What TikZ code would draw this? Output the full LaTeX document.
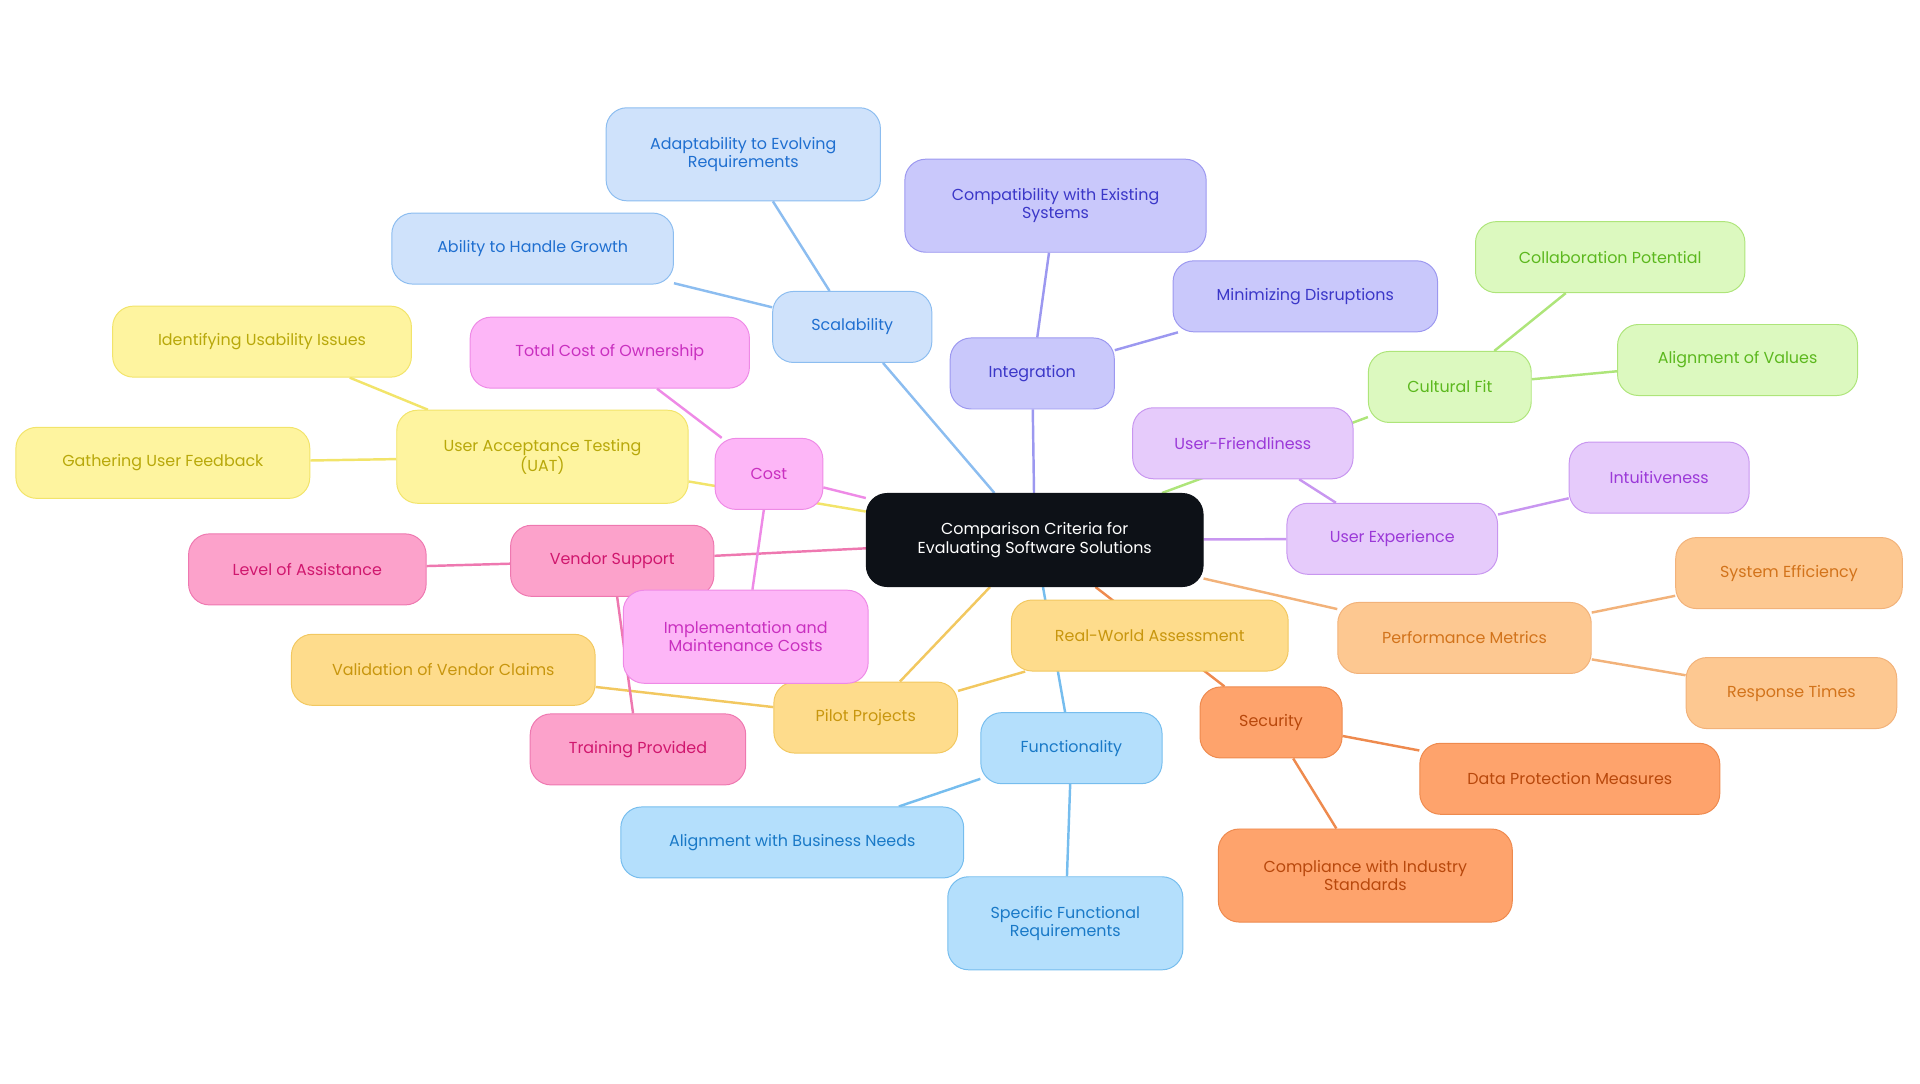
\documentclass[tikz,border=0pt]{standalone}
\usepackage{fontspec}
\setmainfont{Poppins}
\usetikzlibrary{backgrounds}
\definecolor{bF}{HTML}{CFE2FB}\definecolor{bD}{HTML}{1F6FD0}\definecolor{bL}{HTML}{8CBDF0}
\definecolor{iF}{HTML}{C9C8FB}\definecolor{iD}{HTML}{3B37C8}\definecolor{iL}{HTML}{9C98F0}
\definecolor{gF}{HTML}{DCF9BF}\definecolor{gD}{HTML}{5CB81E}\definecolor{gL}{HTML}{AEE57A}
\definecolor{lF}{HTML}{E6CBFB}\definecolor{lD}{HTML}{9B39D8}\definecolor{lL}{HTML}{C896F0}
\definecolor{pF}{HTML}{FDC891}\definecolor{pD}{HTML}{D2731B}\definecolor{pL}{HTML}{F2B27A}
\definecolor{sF}{HTML}{FEA36C}\definecolor{sD}{HTML}{B8480C}\definecolor{sL}{HTML}{EE8A4E}
\definecolor{rF}{HTML}{FEDC8C}\definecolor{rD}{HTML}{C8960E}\definecolor{rL}{HTML}{F2C860}
\definecolor{fF}{HTML}{B4DFFC}\definecolor{fD}{HTML}{1979C7}\definecolor{fL}{HTML}{76BDEE}
\definecolor{vF}{HTML}{FCA2CB}\definecolor{vD}{HTML}{D0176E}\definecolor{vL}{HTML}{EE78B0}
\definecolor{cF}{HTML}{FDB6F7}\definecolor{cD}{HTML}{C930C0}\definecolor{cL}{HTML}{EE8AE6}
\definecolor{uF}{HTML}{FEF49F}\definecolor{uD}{HTML}{B8A80A}\definecolor{uL}{HTML}{F2E46A}
\definecolor{ctr}{HTML}{0D1117}
\tikzset{
 bx/.style={rounded corners=17pt,align=center,inner sep=0pt,font=\fontsize{13}{15}\selectfont,line width=0.8pt},
 th/.style={bx,fill=#1F,draw=#1L,text=#1D},
 ln/.style={line width=2pt,draw=#1L}
}
\newcommand\N[7]{\node[th=#6,minimum width=#4pt,minimum height=#5pt] (#1) at (#2,#3) {#7};}
\begin{document}
\begin{tikzpicture}[x=1pt,y=-1pt]
\useasboundingbox (0,0) rectangle (1568,884.5);
\node[bx,fill=ctr,draw=ctr,text=white,minimum width=275pt,minimum height=76pt] (c) at (845,441) {Comparison Criteria for\\Evaluating Software Solutions};
\N{scal}{696}{267}{130}{58}{b}{Scalability}
\N{adap}{607}{126}{224}{76}{b}{Adaptability to Evolving\\Requirements}
\N{abil}{435}{203}{230}{58}{b}{Ability to Handle Growth}
\N{int}{843}{305}{134}{58}{i}{Integration}
\N{comp}{862}{168}{246}{76}{i}{Compatibility with Existing\\Systems}
\N{mini}{1066}{242}{216}{58}{i}{Minimizing Disruptions}
\N{cult}{1184}{316}{133}{58}{g}{Cultural Fit}
\N{coll}{1315}{210}{220}{58}{g}{Collaboration Potential}
\N{alig}{1419}{294}{196}{58}{g}{Alignment of Values}
\N{uf}{1015}{362}{180}{58}{l}{User-Friendliness}
\N{ux}{1137}{440}{172}{58}{l}{User Experience}
\N{intu}{1355}{390}{147}{58}{l}{Intuitiveness}
\N{pm}{1196}{521}{207}{58}{p}{Performance Metrics}
\N{se}{1461}{468}{185}{58}{p}{System Efficiency}
\N{rt}{1463}{566}{172}{58}{p}{Response Times}
\N{sec}{1038}{590}{116}{58}{s}{Security}
\N{dpm}{1282}{636}{245}{58}{s}{Data Protection Measures}
\N{cis}{1115}{715}{240}{76}{s}{Compliance with Industry\\Standards}
\N{pilot}{707}{586}{150}{58}{r}{Pilot Projects}
\N{rwa}{939}{519}{226}{58}{r}{Real-World Assessment}
\N{vvc}{362}{547}{248}{58}{r}{Validation of Vendor Claims}
\N{fun}{875}{611}{148}{58}{f}{Functionality}
\N{abn}{647}{688}{280}{58}{f}{Alignment with Business Needs}
\N{sfr}{870}{754}{192}{76}{f}{Specific Functional\\Requirements}
\N{vs}{500}{458}{166}{58}{v}{Vendor Support}
\N{loa}{251}{465}{194}{58}{v}{Level of Assistance}
\N{tp}{521}{612}{176}{58}{v}{Training Provided}
\N{uat}{443}{373}{238}{76}{u}{User Acceptance Testing\\(UAT)}
\N{iui}{214}{279}{244}{58}{u}{Identifying Usability Issues}
\N{guf}{133}{378}{240}{58}{u}{Gathering User Feedback}
\N{cost}{628}{387}{88}{58}{c}{Cost}
\N{tco}{498}{288}{228}{58}{c}{Total Cost of Ownership}
\N{imc}{609}{520}{200}{76}{c}{Implementation and\\Maintenance Costs}
\begin{scope}[on background layer]
\draw[ln=b] (c)--(scal) (scal)--(adap) (scal)--(abil);
\draw[ln=i] (c)--(int) (int)--(comp) (int)--(mini);
\draw[ln=g] (c)--(cult) (cult)--(coll) (cult)--(alig);
\draw[ln=l] (c)--(ux) (ux)--(uf) (ux)--(intu);
\draw[ln=p] (c)--(pm) (pm)--(se) (pm)--(rt);
\draw[ln=s] (c)--(sec) (sec)--(dpm) (sec)--(cis);
\draw[ln=r] (c)--(pilot) (pilot)--(rwa) (pilot)--(vvc);
\draw[ln=f] (c)--(fun) (fun)--(abn) (fun)--(sfr);
\draw[ln=v] (c)--(vs) (vs)--(loa) (vs)--(tp);
\draw[ln=u] (c)--(uat) (uat)--(iui) (uat)--(guf);
\draw[ln=c] (c)--(cost) (cost)--(tco) (cost)--(imc);
\end{scope}
\end{tikzpicture}
\end{document}
